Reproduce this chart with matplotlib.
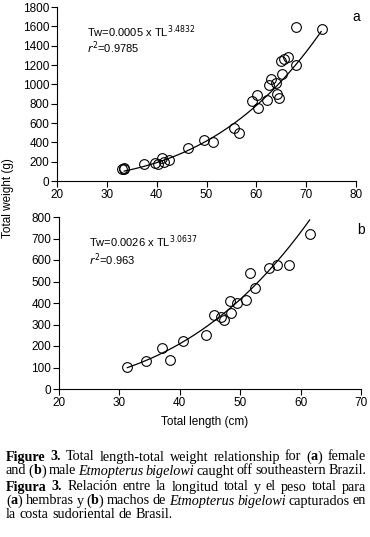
import re
import numpy as np
import matplotlib.pyplot as plt

# (a) females
tl_f = [33.0, 33.4, 33.5, 37.4, 39.6, 40.2, 41.0, 41.4, 42.4, 46.2, 49.5, 51.3,
        55.5, 56.5, 59.2, 60.1, 60.4, 62.1, 62.5, 63.0, 64.0, 64.1, 64.6, 65.1,
        64.9, 65.6, 66.3, 67.9, 67.9, 73.2]
tw_f = [125, 130, 120, 180, 185, 180, 235, 200, 215, 345, 420, 405,
        550, 500, 830, 890, 760, 840, 990, 1055, 1010, 895, 860, 1105,
        1240, 1265, 1285, 1595, 1200, 1575]
# (b) males
tl_m = [31.2, 34.4, 37.0, 38.3, 40.6, 44.4, 45.7, 46.8, 47.4, 48.3, 48.4, 49.4,
        51.0, 51.7, 52.4, 54.8, 56.1, 58.1, 61.6]
tw_m = [103, 130, 190, 137, 221, 249, 344, 336, 323, 408, 355, 401,
        412, 539, 469, 564, 576, 575, 720]

# a, b, TL range of the fitted curve
fit_f = (0.0005, 3.4832, 33.5, 73.0)
fit_m = (0.0026, 3.0637, 31.3, 61.5)

caption = [
    "**Figure 3.** Total length-total weight relationship for (**a**) female",
    "and (**b**) male _Etmopterus bigelowi_ caught off southeastern Brazil.",
    "**Figura 3.** Relación entre la longitud total y el peso total para",
    "(**a**) hembras y (**b**) machos de _Etmopterus bigelowi_ capturados en",
    "la costa sudoriental de Brasil.",
]
caption_y = [457, 471, 487, 501, 515]

W, H = 370, 537
sans = ['Liberation Sans', 'DejaVu Sans']
serif = ['Liberation Serif', 'DejaVu Serif']
plt.rcParams['font.family'] = sans


def px_axes(fig, left, top, right, bottom):
    return fig.add_axes([left / W, 1 - bottom / H, (right - left) / W, (bottom - top) / H])


def panel(ax, tl, tw, fit, xlim, ylim, ystep, label, eq, r2, ypos):
    a, b, x0, x1 = fit
    xs = np.linspace(x0, x1, 200)
    ax.plot(xs, a * xs ** b, color='black', lw=0.9)
    ax.plot(tl, tw, 'o', mfc='none', mec='black', ms=7, mew=0.8)
    ax.set_xlim(*xlim)
    ax.set_ylim(*ylim)
    ax.set_xticks(np.arange(xlim[0], xlim[1] + 1, 10))
    ax.set_yticks(np.arange(ylim[0], ylim[1] + 1, ystep))
    for s in ['top', 'right']:
        ax.spines[s].set_visible(False)
    ax.tick_params(direction='out', length=4, width=0.8, labelsize=8.5, pad=1.5)
    ax.text(0.10, ypos[0], eq, transform=ax.transAxes, fontsize=8, va='center')
    ax.text(0.10, ypos[1], r2, transform=ax.transAxes, fontsize=8, va='center')
    ax.text(1.0, ypos[2], label, transform=ax.transAxes, fontsize=10, ha='center', va='center')


def caption_line(fig, renderer, y, line, justify):
    words = [[]]
    for seg in re.split(r'(\*\*.+?\*\*|_.+?_)', line):
        if not seg:
            continue
        if seg.startswith('**'):
            txt, w, s = seg[2:-2], 'bold', 'normal'
        elif seg.startswith('_'):
            txt, w, s = seg[1:-1], 'normal', 'italic'
        else:
            txt, w, s = seg, 'normal', 'normal'
        parts = txt.split(' ')
        for i, p in enumerate(parts):
            if i > 0:
                words.append([])
            if p:
                words[-1].append((p, w, s))
    words = [wd for wd in words if wd]

    objs = []
    widths = []
    for wd in words:
        runs = []
        tot = 0
        for txt, w, s in wd:
            t = fig.text(0, 1 - y / H, txt, fontsize=10.2, family=serif,
                         weight=w, style=s, va='center', ha='left')
            wpx = t.get_window_extent(renderer).width
            runs.append((t, wpx))
            tot += wpx
        objs.append(runs)
        widths.append(tot)
    x0, x1 = 6, 366
    if justify and len(words) > 1:
        gap = (x1 - x0 - sum(widths)) / (len(words) - 1)
    else:
        gap = 3.5
    x = x0
    for runs, wsum in zip(objs, widths):
        xx = x
        for t, wpx in runs:
            t.set_x(xx / W)
            xx += wpx
        x += wsum + gap


def main():
    fig = plt.figure(figsize=(W / 100, H / 100), dpi=100)

    ax1 = px_axes(fig, 57, 7, 356, 181)
    panel(ax1, tl_f, tw_f, fit_f, (20, 80), (0, 1800), 200, 'a',
          r'Tw=0.0005 x TL$^{3.4832}$', r'$r^2$=0.9785', (0.86, 0.765, 0.94))

    ax2 = px_axes(fig, 59, 217, 361, 389)
    panel(ax2, tl_m, tw_m, fit_m, (20, 70), (0, 800), 100, 'b',
          r'Tw=0.0026 x TL$^{3.0637}$', r'$r^2$=0.963', (0.855, 0.75, 0.924))

    fig.text(8 / W, 1 - 198 / H, 'Total weight (g)', rotation=90,
             fontsize=8.5, ha='center', va='center')
    fig.text(205 / W, 1 - 422 / H, 'Total length (cm)',
             fontsize=8.5, ha='center', va='center')

    renderer = fig.canvas.get_renderer()
    for i, (line, y) in enumerate(zip(caption, caption_y)):
        caption_line(fig, renderer, y, line, justify=(i != 4))

    fig.savefig('out.png', dpi=100)


if __name__ == "__main__":
    main()
